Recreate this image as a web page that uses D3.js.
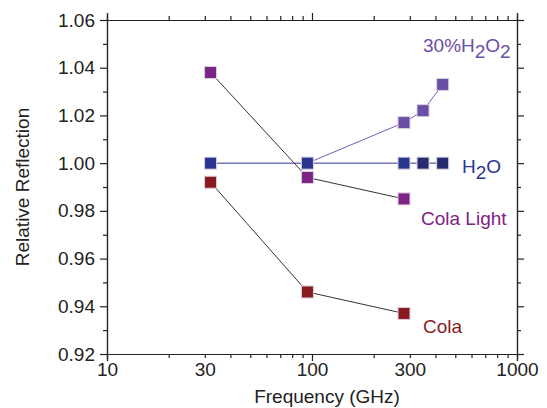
<!DOCTYPE html>
<html>
<head>
<meta charset="utf-8">
<script src="https://cdn.jsdelivr.net/npm/d3@7"></script>
<style>
  body { margin: 0; background: #fff; }
  svg { font-family: "Liberation Sans", Arial, sans-serif; }
  .axis path, .axis line { stroke: #222; stroke-width: 1.2px; }
  .axis text { font-size: 19px; fill: #222; }
</style>
</head>
<body>
<div id="chart"></div>
<script>
// frequencies in GHz, reflection relative to water reference
var h2oFreq = [32, 95, 281, 348, 434];
var h2oVal = [1.0, 1.0, 1.0, 1.0, 1.0];
var peroxFreq = [95, 281, 348, 434];
var peroxVal = [1.0, 1.017, 1.022, 1.033];
var lightFreq = [32, 95, 281];
var lightVal = [1.038, 0.994, 0.985];
var colaFreq = [32, 95, 281];
var colaVal = [0.992, 0.946, 0.937];
var xTicks = [10, 30, 100, 300, 1000];
var yTicks = [0.92, 0.94, 0.96, 0.98, 1.0, 1.02, 1.04, 1.06];

var W = 547, H = 408;
var m = { top: 20, right: 30, bottom: 54, left: 107 };
var w = W - m.left - m.right, h = H - m.top - m.bottom;

var svg = d3.select("#chart").append("svg")
  .attr("width", W).attr("height", H);
var g = svg.append("g").attr("transform", "translate(" + m.left + "," + m.top + ")");

var x = d3.scaleLog().domain([10, 1000]).range([0, w]);
var y = d3.scaleLinear().domain([0.92, 1.06]).range([h, 0]);

var decades = [10, 100, 1000];
var minorX = [];
[10, 100].forEach(function(d) { for (var k = 2; k <= 9; k++) minorX.push(d * k); });
var minorY = d3.range(0.93, 1.06, 0.02);

function fmtY(d) { return d.toFixed(2); }

// minor ticks
g.append("g").attr("class", "axis").attr("transform", "translate(0," + h + ")")
  .call(d3.axisBottom(x).tickValues(minorX).tickSize(4).tickFormat(""));
g.append("g").attr("class", "axis")
  .call(d3.axisTop(x).tickValues(minorX).tickSize(4).tickFormat(""));
g.append("g").attr("class", "axis")
  .call(d3.axisLeft(y).tickValues(minorY).tickSize(4).tickFormat(""));
g.append("g").attr("class", "axis").attr("transform", "translate(" + w + ",0)")
  .call(d3.axisRight(y).tickValues(minorY).tickSize(4).tickFormat(""));

// major ticks
g.append("g").attr("class", "axis").attr("transform", "translate(0," + h + ")")
  .call(d3.axisBottom(x).tickValues(decades).tickSize(7).tickFormat(""));
g.append("g").attr("class", "axis").attr("transform", "translate(0," + h + ")")
  .call(d3.axisBottom(x).tickValues(xTicks).tickSize(0).tickPadding(9).tickFormat(d3.format("d")))
  .select(".domain").remove();
g.append("g").attr("class", "axis")
  .call(d3.axisTop(x).tickValues(decades).tickSize(7).tickFormat(""));
g.append("g").attr("class", "axis")
  .call(d3.axisLeft(y).tickValues(yTicks).tickSize(7).tickPadding(5).tickFormat(fmtY));
g.append("g").attr("class", "axis").attr("transform", "translate(" + w + ",0)")
  .call(d3.axisRight(y).tickValues(yTicks).tickSize(7).tickFormat(""));

// axis titles
svg.append("text").attr("x", m.left + w / 2 + 15).attr("y", 403)
  .attr("text-anchor", "middle").attr("font-size", 19).attr("fill", "#222")
  .text("Frequency (GHz)");
svg.append("text").attr("transform", "translate(29," + (m.top + h / 2) + ") rotate(-90)")
  .attr("text-anchor", "middle").attr("font-size", 19).attr("fill", "#222")
  .text("Relative Reflection");

function pts(fs, vs) { return fs.map(function(f, i) { return [f, vs[i]]; }); }
var line = d3.line().x(function(d) { return x(d[0]); }).y(function(d) { return y(d[1]); });

var series = [
  { data: pts(colaFreq, colaVal), line: "#333", fill: ["#8b1a1f"] },
  { data: pts(lightFreq, lightVal), line: "#333", fill: ["#7e2485"] },
  { data: pts(peroxFreq, peroxVal), line: "#7a5cc0", fill: ["#6a4fa6"] },
  { data: pts(h2oFreq, h2oVal), line: "#2a3590", fill: ["#2a3590", "#2a3590", "#2a3590", "#262a6e", "#262a6e"] }
];

series.forEach(function(s) {
  g.append("path").datum(s.data).attr("d", line)
    .attr("fill", "none").attr("stroke", s.line).attr("stroke-width", 1);
});
series.forEach(function(s) {
  var sz = 12;
  g.selectAll(null).data(s.data).enter().append("rect")
    .attr("x", function(d) { return x(d[0]) - sz / 2; })
    .attr("y", function(d) { return y(d[1]) - sz / 2; })
    .attr("width", sz).attr("height", sz)
    .attr("fill", function(d, i) { return s.fill[i] || s.fill[0]; })
    .attr("stroke", "#d8d0e0").attr("stroke-width", 1);
});

// series labels
function label(xp, yp, color, parts) {
  var t = svg.append("text").attr("x", xp).attr("y", yp)
    .attr("font-size", 19).attr("fill", color);
  parts.forEach(function(p) {
    var ts = t.append("tspan").text(p[0]);
    if (p[1]) ts.attr("dy", 6);
    else if (p[2]) ts.attr("dy", -6);
  });
}
label(423, 52, "#6a4fa6", [["30%H"], ["2", true], ["O", false, true], ["2", true]]);
label(462, 173, "#2a3590", [["H"], ["2", true], ["O", false, true]]);
label(421, 225, "#7e2485", [["Cola Light"]]);
label(423, 333, "#8b1a1f", [["Cola"]]);
</script>
</body>
</html>
